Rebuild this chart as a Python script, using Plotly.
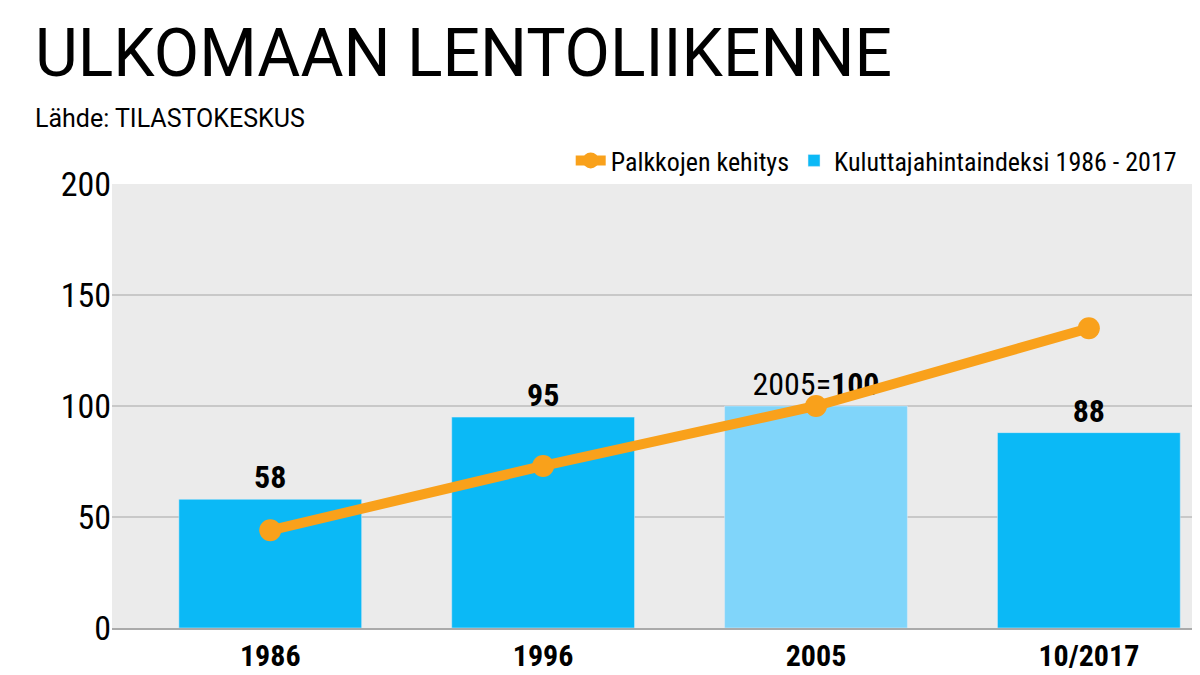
import plotly.graph_objects as go

categories = ["1986", "1996", "2005", "10/2017"]
kpi = [58, 95, 100, 88]
wages = [44, 73, 100, 135]
bar_labels = ["<b>58</b>", "<b>95</b>", "2005=<b>100</b>", "<b>88</b>"]
bar_colors = ["#0bb9f6", "#0bb9f6", "#80d5fa", "#0bb9f6"]

F = "Roboto Condensed, Liberation Sans Narrow, Roboto, sans-serif"

fig = go.Figure()
fig.add_trace(go.Bar(x=categories, y=kpi, marker_color=bar_colors, name="Kuluttajahintaindeksi 1986 - 2017",
                     text=bar_labels, textposition="outside", textfont=dict(size=32, color="black", family=F),
                     cliponaxis=False))
fig.add_trace(go.Scatter(x=categories, y=wages, mode="lines+markers", name="Palkkojen kehitys",
                         line=dict(color="#f9a11b", width=10), marker=dict(size=22, color="#f9a11b")))
fig.update_layout(
    width=1200, height=675, margin=dict(l=104, r=10, t=176, b=55, autoexpand=False),
    paper_bgcolor="white", plot_bgcolor="#ebebeb", bargap=0.33,
    font=dict(family=F, color="black"),
    showlegend=True, legend=dict(orientation="h", x=0.985, xanchor="right", y=1.0, yanchor="bottom",
                                 font=dict(size=26), traceorder="reversed"),
    title=dict(text="ULKOMAAN LENTOLIIKENNE", x=27/1200, xanchor="left", xref="container",
               yref="container", y=1-45/675, yanchor="middle",
               font=dict(size=66, family="Roboto, sans-serif")),
    annotations=[dict(text="Lähde: TILASTOKESKUS", xref="paper", yref="paper", x=(25-104)/1086, y=(620-109)/445,
                      xanchor="left", yanchor="middle", showarrow=False,
                      font=dict(size=25, family="Roboto, sans-serif"))],
    xaxis=dict(tickfont=dict(size=30, family=F), showline=True, linecolor="#aaa", linewidth=2,
               tickprefix="<b>", ticksuffix="</b>", range=[-0.58, 3.4]),
    yaxis=dict(range=[0, 200], tickvals=[0, 50, 100, 150, 200], tickfont=dict(size=34),
               gridcolor="#c8c8c8", gridwidth=2, zeroline=False, automargin=False),
)
fig.write_html("out.html")
